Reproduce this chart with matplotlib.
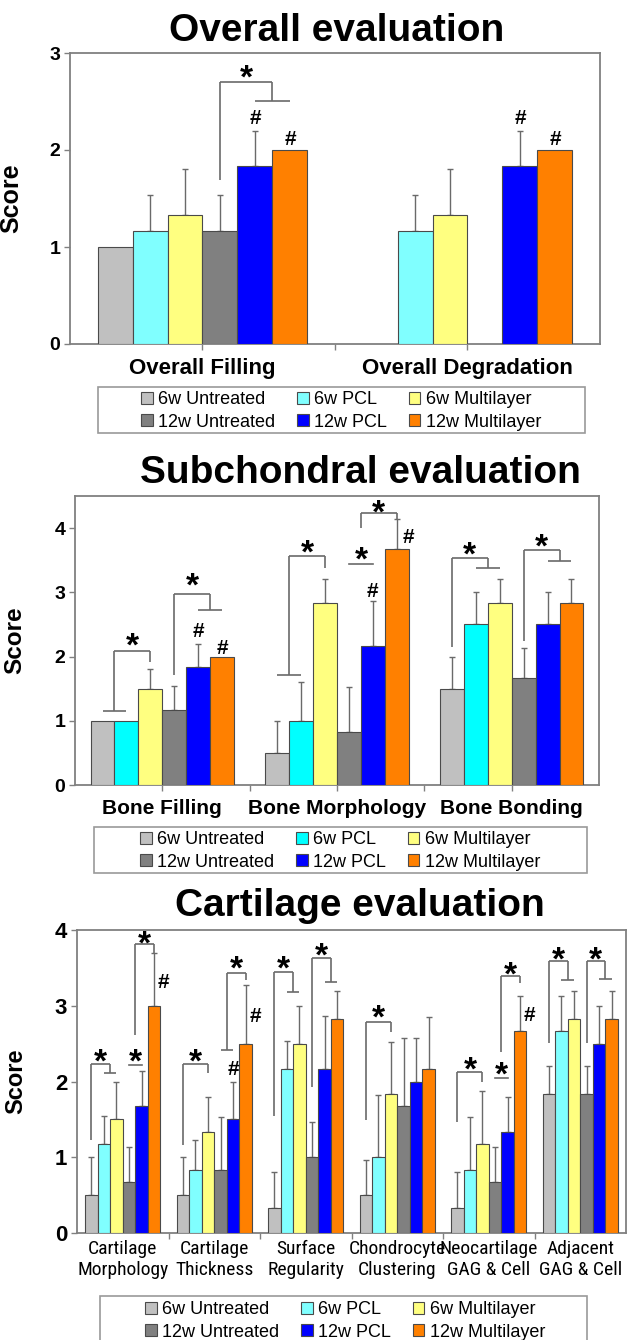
import numpy as np
import matplotlib
matplotlib.use('Agg')
import matplotlib.pyplot as plt
from matplotlib.patches import Patch, Rectangle
from matplotlib import font_manager
from matplotlib.font_manager import FontProperties
import matplotlib.transforms as mtransforms

# ---------------- data ----------------
series = ['6w Untreated', '6w PCL', '6w Multilayer',
          '12w Untreated', '12w PCL', '12w Multilayer']

overall_cats = ['Overall Filling', 'Overall Degradation']
overall_means = [[1.00, 1.17, 1.33, 1.17, 1.83, 2.00],
                 [0.00, 1.17, 1.33, 0.00, 1.83, 2.00]]
overall_errs = [[0.00, 0.37, 0.47, 0.37, 0.37, 0.00],
                [0.00, 0.37, 0.47, 0.00, 0.37, 0.00]]

sub_cats = ['Bone Filling', 'Bone Morphology', 'Bone Bonding']
sub_means = [[1.00, 1.00, 1.50, 1.17, 1.83, 2.00],
             [0.50, 1.00, 2.83, 0.83, 2.17, 3.67],
             [1.50, 2.50, 2.83, 1.67, 2.50, 2.83]]
sub_errs = [[0.00, 0.00, 0.30, 0.37, 0.37, 0.00],
            [0.50, 0.60, 0.37, 0.69, 0.70, 0.47],
            [0.50, 0.50, 0.37, 0.46, 0.50, 0.37]]

cart_cats = ['Cartilage\nMorphology', 'Cartilage\nThickness', 'Surface\nRegularity',
             'Chondrocyte\nClustering', 'Neocartilage\nGAG & Cell', 'Adjacent\nGAG & Cell']
cart_means = [[0.50, 1.17, 1.50, 0.67, 1.67, 3.00],
              [0.50, 0.83, 1.33, 0.83, 1.50, 2.50],
              [0.33, 2.17, 2.50, 1.00, 2.17, 2.83],
              [0.50, 1.00, 1.83, 1.67, 2.00, 2.17],
              [0.33, 0.83, 1.17, 0.67, 1.33, 2.67],
              [1.83, 2.67, 2.83, 1.83, 2.50, 2.83]]
cart_errs = [[0.50, 0.37, 0.50, 0.46, 0.47, 0.70],
             [0.50, 0.40, 0.47, 0.70, 0.50, 0.77],
             [0.47, 0.36, 0.50, 0.47, 0.70, 0.37],
             [0.47, 0.82, 0.69, 0.90, 0.57, 0.68],
             [0.47, 0.70, 0.70, 0.46, 0.47, 0.46],
             [0.37, 0.46, 0.37, 0.37, 0.50, 0.37]]

# significance annotations (category, bar groups, y levels)
overall_brackets = [dict(cat=0, L=[3], Llow=1.69, R=[4, 5], Rlow=2.51, top=2.70, star=2.84)]
overall_lines = []
overall_hash = [(0, 4, 2.35, 0.0), (0, 5, 2.13, 0.0), (1, 4, 2.35, 0.0), (1, 5, 2.13, 0.0)]

sub_brackets = [dict(cat=0, L=[0, 1], Llow=1.15, R=[2], Rlow=1.92, top=2.08, star=2.30),
                dict(cat=0, L=[3], Llow=1.72, R=[4, 5], Rlow=2.72, top=2.97, star=3.24),
                dict(cat=1, L=[0, 1], Llow=1.72, R=[2], Rlow=3.38, top=3.57, star=3.76),
                dict(cat=1, L=[3, 4], Lcross=False, Llow=4.00, R=[5], Rlow=4.14, top=4.23, star=4.38),
                dict(cat=2, L=[0], Llow=2.15, R=[1, 2], Rlow=3.38, top=3.53, star=3.72),
                dict(cat=2, L=[3], Llow=2.24, R=[4, 5], Rlow=3.49, top=3.66, star=3.84)]
sub_lines = [dict(cat=1, bars=[3, 4], y=3.44, star=3.64)]
sub_hash = [(0, 4, 2.42, 0.0), (0, 5, 2.16, 0.0), (1, 4, 3.04, 0.0), (1, 5, 3.88, 0.5)]

cart_brackets = [dict(cat=0, L=[0], Llow=1.23, R=[1, 2], Rlow=2.11, top=2.23, star=2.38),
                 dict(cat=0, L=[3, 4], Lcross=False, Llow=2.61, R=[5], Rlow=3.70, top=3.81, star=3.93),
                 dict(cat=1, L=[0], Llow=1.16, R=[2], Rlow=2.11, top=2.23, star=2.38),
                 dict(cat=1, L=[3, 4], Llow=2.42, R=[5], Rlow=3.34, top=3.43, star=3.60),
                 dict(cat=2, L=[0], Llow=1.55, R=[1, 2], Rlow=3.18, top=3.45, star=3.60),
                 dict(cat=2, L=[3], Llow=1.93, R=[4, 5], Rlow=3.31, top=3.63, star=3.78),
                 dict(cat=3, L=[0], Llow=1.49, R=[2], Rlow=2.66, top=2.79, star=2.96),
                 dict(cat=4, L=[0], Llow=1.47, R=[2], Rlow=2.00, top=2.13, star=2.27),
                 dict(cat=4, L=[3, 4], Lcross=False, Llow=2.39, R=[5], Rlow=3.30, top=3.39, star=3.52),
                 dict(cat=5, L=[0], Llow=2.51, R=[1, 2], Rlow=3.34, top=3.59, star=3.73),
                 dict(cat=5, L=[3], Llow=2.51, R=[4, 5], Rlow=3.35, top=3.59, star=3.73)]
cart_lines = [dict(cat=0, bars=[3, 4], y=2.22, star=2.38),
              dict(cat=4, bars=[3, 4], y=2.05, star=2.20)]
cart_hash = [(0, 5, 3.33, 0.75), (1, 4, 2.18, 0.0), (1, 5, 2.88, 0.75), (4, 5, 2.90, 0.75)]

colors_a = ['#C0C0C0', '#80FFFF', '#FFFF80', '#808080', '#0000FF', '#FF8000']
colors_b = ['#C0C0C0', '#00FFFF', '#FFFF80', '#808080', '#0000FF', '#FF8000']

# ---------------- style ----------------
plt.rcParams['font.family'] = ['Liberation Sans', 'DejaVu Sans']


def find_narrow():
    prefer = ['Liberation Sans Narrow', 'Arial Narrow', 'Roboto Condensed',
              'Open Sans Condensed', 'DejaVu Sans Condensed', 'Noto Sans Condensed']
    fl = font_manager.fontManager.ttflist
    for p in prefer:
        for f in fl:
            if f.name == p and f.weight in (400, 'normal', 'regular') and f.style == 'normal':
                return FontProperties(fname=f.fname)
    for f in fl:
        st = str(f.stretch).lower()
        low = f.fname.lower()
        if ('condensed' in st or 'narrow' in low or 'condensed' in low) and \
                'bold' not in low and 'italic' not in low and 'oblique' not in low:
            return FontProperties(fname=f.fname)
    return None


narrow_fp = find_narrow()
if narrow_fp is not None:
    narrow_size = 14
    narrow_ls = 1.25
else:
    narrow_fp = FontProperties(family=['Liberation Sans', 'DejaVu Sans'])
    narrow_size = 12.5
    narrow_ls = 1.45

W, H = 633, 1340
fig = plt.figure(figsize=(W / 100, H / 100), dpi=100)
fig.patch.set_facecolor('white')

SPINE = '#808080'
LINE = '#6A6A6A'
EDGE = '#4A4A4A'


def fig_rect(x0, y0, x1, y1):
    return [x0 / W, 1 - y1 / H, (x1 - x0) / W, (y1 - y0) / H]


def star(ax, x, y, fs=24):
    tr = mtransforms.offset_copy(ax.transData, fig=fig, x=0, y=-0.56 * fs, units='points')
    ax.text(x, y, '*', transform=tr, ha='center', va='baseline', fontsize=fs,
            fontweight='bold', clip_on=False, zorder=6)


def hashmark(ax, x, y, fs=15):
    tr = mtransforms.offset_copy(ax.transData, fig=fig, x=0, y=-0.36 * fs, units='points')
    ax.text(x, y, '#', transform=tr, ha='center', va='baseline', fontsize=fs,
            fontweight='bold', clip_on=False, zorder=6)


def xpos(k, i, w):
    return k + (i - 2.5) * w


def draw_panel(ax, cats, means, errs, w, colors, ymax, yticks, brackets, lines, hashes,
               xfont, yfs, ylab_fs, ylab_x, center_ticks=True, xpad=6,
               star_fs=24, hash_fs=15, x_ls=1.2):
    means = np.array(means)
    errs = np.array(errs)
    n = len(cats)
    for i in range(6):
        xs = np.array([xpos(k, i, w) for k in range(n)])
        m = means[:, i]
        e = errs[:, i]
        keep = m > 0
        ax.bar(xs[keep], m[keep], w, color=colors[i], edgecolor=EDGE, linewidth=0.8, zorder=3)
        ke = e > 0
        if ke.any():
            ax.errorbar(xs[ke], m[ke], yerr=[np.zeros(ke.sum()), e[ke]], fmt='none',
                        ecolor=LINE, elinewidth=1.0, capsize=2.2, capthick=1.0, zorder=2)
    for b in brackets:
        k = b['cat']
        lx = [xpos(k, i, w) for i in b['L']]
        rx = [xpos(k, i, w) for i in b['R']]
        xl = np.mean(lx)
        xr = np.mean(rx)
        kw = dict(color=LINE, lw=1.2, zorder=5, solid_capstyle='butt')
        ax.plot([xl, xl], [b['Llow'], b['top']], **kw)
        ax.plot([xr, xr], [b['Rlow'], b['top']], **kw)
        ax.plot([xl, xr], [b['top'], b['top']], **kw)
        if len(lx) > 1 and b.get('Lcross', True):
            ax.plot([lx[0], lx[-1]], [b['Llow'], b['Llow']], **kw)
        if len(rx) > 1 and b.get('Rcross', True):
            ax.plot([rx[0], rx[-1]], [b['Rlow'], b['Rlow']], **kw)
        star(ax, (xl + xr) / 2, b['star'], star_fs)
    for l in lines:
        k = l['cat']
        xs = [xpos(k, i, w) for i in l['bars']]
        ax.plot([xs[0], xs[-1]], [l['y'], l['y']], color=LINE, lw=1.2, zorder=5)
        star(ax, np.mean(xs), l['star'], star_fs)
    for (k, i, y, dx) in hashes:
        hashmark(ax, xpos(k, i, w) + dx * w, y, hash_fs)

    ax.set_xlim(-0.5, n - 0.5)
    ax.set_ylim(0, ymax)
    ax.set_yticks(yticks)
    ax.set_yticklabels([str(t) for t in yticks], fontweight='bold', fontsize=yfs)
    ax.set_xticks(range(n))
    ax.set_xticklabels(cats, fontproperties=xfont, linespacing=x_ls)
    ax.set_xticks(np.arange(n - 1) + 0.5, minor=True)
    ax.tick_params(axis='y', direction='out', length=4, width=1, color=SPINE, pad=3)
    ax.tick_params(axis='x', which='major', direction='out',
                   length=4 if center_ticks else 0, width=1, color=SPINE, pad=xpad)
    ax.tick_params(axis='x', which='minor', direction='out', length=4, width=1, color=SPINE)
    for s in ax.spines.values():
        s.set_color(SPINE)
        s.set_linewidth(1.3)
    ax.set_ylabel('Score', fontsize=ylab_fs, fontweight='bold')
    ax.yaxis.set_label_coords(ylab_x, 0.5)


def legend_box(colors, cx, cy, box):
    handles = [Patch(facecolor=colors[i], edgecolor=EDGE, linewidth=0.8, label=series[i])
               for i in [0, 3, 1, 4, 2, 5]]
    fig.legend(handles=handles, ncol=3, loc='center',
               bbox_to_anchor=(cx / W, 1 - cy / H), frameon=False, fontsize=13,
               handlelength=0.65, handleheight=0.65, handletextpad=0.3,
               columnspacing=1.2, labelspacing=0.3, borderpad=0.2)
    r = Rectangle((box[0] / W, 1 - box[3] / H), (box[2] - box[0]) / W, (box[3] - box[1]) / H,
                  transform=fig.transFigure, fill=False, edgecolor='#9A9A9A', lw=1.2)
    fig.add_artist(r)


bold16 = FontProperties(family=['Liberation Sans', 'DejaVu Sans'], weight='bold', size=16)
bold15 = FontProperties(family=['Liberation Sans', 'DejaVu Sans'], weight='bold', size=15)
narrow_fp.set_size(narrow_size)

# ---------------- panel 1 ----------------
ax1 = fig.add_axes(fig_rect(70, 53, 600, 344))
draw_panel(ax1, overall_cats, overall_means, overall_errs, 0.132, colors_a, 3, [0, 1, 2, 3],
           overall_brackets, overall_lines, overall_hash,
           xfont=bold16, yfs=14, ylab_fs=18, ylab_x=-0.089, xpad=6)
fig.text(337 / W, 1 - 41 / H, 'Overall evaluation', ha='center', va='baseline',
         fontsize=28, fontweight='bold')
legend_box(colors_a, 341, 411, (98, 387, 585, 433))

# ---------------- panel 2 ----------------
ax2 = fig.add_axes(fig_rect(75, 496, 599, 785))
draw_panel(ax2, sub_cats, sub_means, sub_errs, 0.137, colors_b, 4.5, [0, 1, 2, 3, 4],
           sub_brackets, sub_lines, sub_hash,
           xfont=bold15, yfs=14, ylab_fs=17.5, ylab_x=-0.0935, xpad=6)
fig.text(360 / W, 1 - 483 / H, 'Subchondral evaluation', ha='center', va='baseline',
         fontsize=28, fontweight='bold')
legend_box(colors_b, 340, 851, (94, 827, 587, 873))

# ---------------- panel 3 ----------------
ax3 = fig.add_axes(fig_rect(77, 930, 626, 1233))
draw_panel(ax3, cart_cats, cart_means, cart_errs, 0.137, colors_a, 4, [0, 1, 2, 3, 4],
           cart_brackets, cart_lines, cart_hash,
           xfont=narrow_fp, yfs=16, ylab_fs=17, ylab_x=-0.091, center_ticks=False, xpad=5,
           x_ls=narrow_ls)
fig.text(360 / W, 1 - 916 / H, 'Cartilage evaluation', ha='center', va='baseline',
         fontsize=28, fontweight='bold')
legend_box(colors_a, 345, 1321, (100, 1296, 587, 1346))

fig.savefig('out.png', dpi=100)
